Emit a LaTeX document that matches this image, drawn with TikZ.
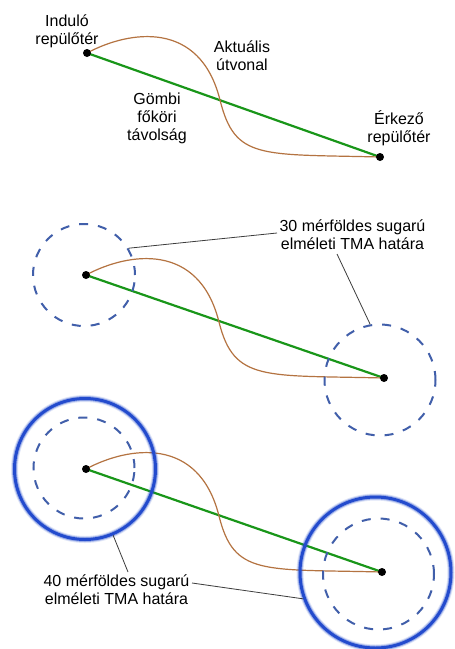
\documentclass[tikz,border=0pt]{standalone}
\usepackage{fontspec}
\setmainfont{Liberation Sans}
\usetikzlibrary{calc}

\definecolor{routegreen}{RGB}{25,150,25}
\definecolor{routebrown}{RGB}{180,115,65}
\definecolor{tmadash}{RGB}{65,95,170}
\definecolor{tmasolid}{RGB}{35,75,205}
\definecolor{leadergray}{RGB}{60,60,60}

% great-circle line and actual flight path between two airports
\newcommand{\routepanel}[3]{%
  \coordinate (dep#1) at #2;
  \coordinate (arr#1) at #3;
  \coordinate (mid#1) at ($(dep#1)+(133,47)$);
  \draw[gc] (dep#1) -- (arr#1);
  \draw[actual] (dep#1) .. controls +(43,-23) and +(-20,-80) .. (mid#1)
                .. controls +(15,60) and +(-120,-3) .. (arr#1);
}

% soft-edged solid boundary circle
\newcommand{\haloring}[3]{%
  \draw[tmasolid, opacity=0.15, line width=7pt] #2 circle[radius=#3];
  \draw[tmasolid, opacity=0.35, line width=5pt] #2 circle[radius=#3];
  \node[tma40, minimum size=2*#3] (#1) at #2 {};
}

\begin{document}
\begin{tikzpicture}[x=1pt, y=-1pt,
  lbl/.style={font=\fontsize{16}{18}\selectfont, align=center, inner sep=0pt, anchor=base},
  airport/.style={circle, fill=black, inner sep=0pt, minimum size=8pt},
  gc/.style={draw=routegreen, line width=2.2pt},
  actual/.style={draw=routebrown, line width=1.2pt},
  tma30/.style={circle, draw=tmadash, line width=2pt, dash pattern=on 9pt off 10pt, inner sep=0pt},
  tma40/.style={circle, draw=tmasolid, line width=3pt, inner sep=0pt},
  leaderline/.style={draw=leadergray, line width=0.8pt}]

\fill[white] (0,0) rectangle (455,649);
\useasboundingbox (0,0) rectangle (455,649);

% ---------- top: routes only ----------
% (label positions give the baseline of the last line)
\routepanel{1}{(87,53)}{(380,157)}
\node[lbl] (deplbl) at (67,44.5) {Induló\\repülőtér};
\node[lbl] (actlbl) at (242,70.5) {Aktuális\\útvonal};
\node[lbl] (gclbl) at (157,140) {Gömbi\\főköri\\távolság};
\node[lbl] (arrlbl) at (399,142) {Érkező\\repülőtér};

% ---------- middle: 30 mile TMA ----------
\routepanel{2}{(86,275)}{(384,378)}
\node[tma30, minimum size=102pt] (tmaA2) at (84,275) {};
\node[tma30, minimum size=111pt] (tmaB2) at (380,380) {};
\node[lbl] (lbl30) at (352.5,249.5) {30 mérföldes sugarú\\elméleti TMA határa};
\coordinate (k30a) at (277,233);
\coordinate (k30b) at (337,254);
\draw[leaderline] (tmaA2.31.5) -- (k30a);
\draw[leaderline] (k30b) -- (tmaB2.100.5);

% ---------- bottom: 30 and 40 mile TMA ----------
\routepanel{3}{(86,469)}{(382,572)}
\node[tma30, minimum size=101pt] (tmaA3) at (84,468) {};
\node[tma30, minimum size=111pt] (tmaB3) at (378.5,574) {};
\haloring{ringA3}{(85,469)}{70.5}
\haloring{ringB3}{(375.5,572.5)}{75.5}
\node[lbl] (lbl40) at (116.5,604) {40 mérföldes sugarú\\elméleti TMA határa};
\coordinate (k40a) at (128,572);
\coordinate (k40b) at (192,583);
\draw[leaderline] (ringA3.-67) -- (k40a);
\draw[leaderline] (k40b) -- (ringB3.200);

% airports on top
\foreach \i in {1,2,3} {
  \node[airport] (depdot\i) at (dep\i) {};
  \node[airport] (arrdot\i) at (arr\i) {};
}
\end{tikzpicture}
\end{document}
